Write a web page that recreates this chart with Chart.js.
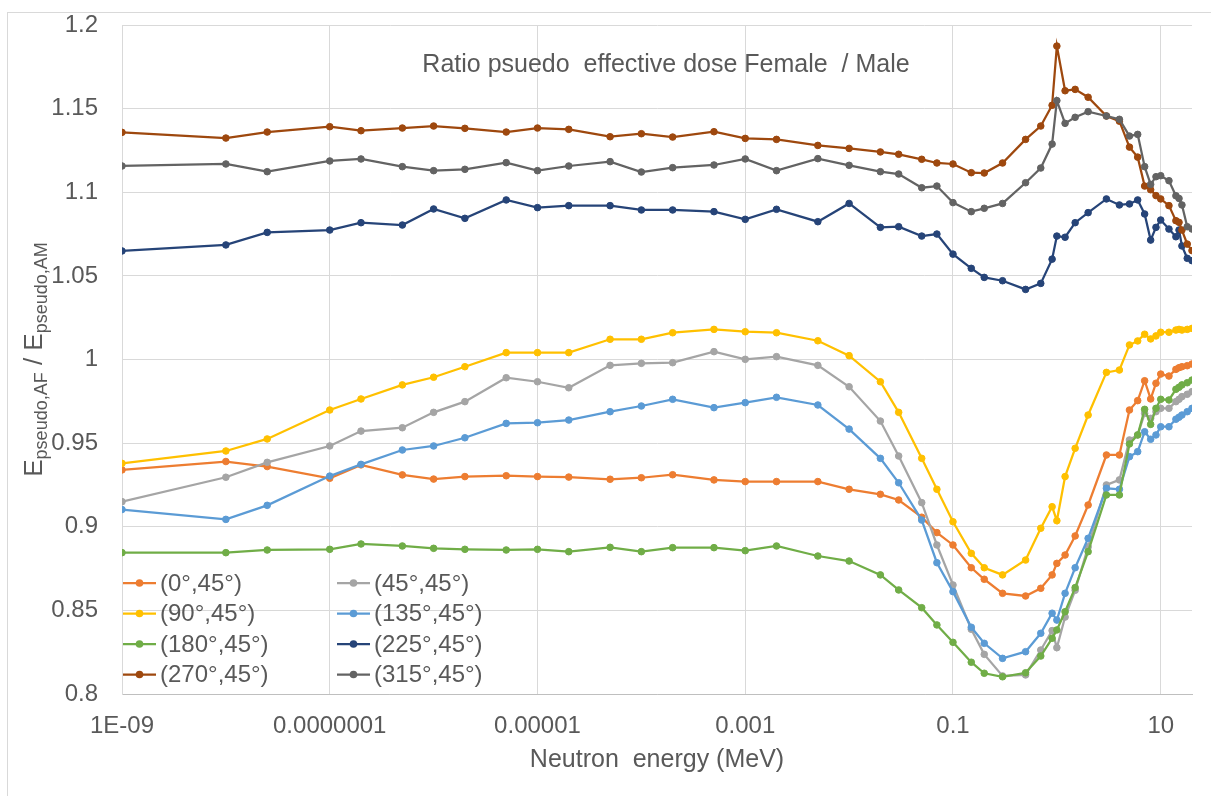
<!DOCTYPE html>
<html lang="en">
<head>
<meta charset="UTF-8">
<title>Ratio pseudo effective dose</title>
<script src="https://cdn.jsdelivr.net/npm/chart.js"></script>
<style>
  html, body { margin: 0; padding: 0; background: #fff; overflow: hidden; }
  .chart-box { position: relative; width: 1211px; height: 796px; }
</style>
</head>
<body>
<div class="chart-box">
  <canvas id="ratioChart"></canvas>
</div>

<script>
// neutron energies (MeV)
var energies = [1e-9, 1e-8, 2.5e-8, 1e-7, 2e-7, 5e-7, 1e-6, 2e-6, 5e-6, 1e-5, 2e-5, 5e-5,
  1e-4, 2e-4, 5e-4, 1e-3, 2e-3, 5e-3, 0.01, 0.02, 0.03, 0.05, 0.07, 0.1,
  0.15, 0.2, 0.3, 0.5, 0.7, 0.9, 1, 1.2, 1.5, 2, 3, 4,
  5, 6, 7, 8, 9, 10, 12, 14, 15, 16, 18, 20];

// ratio AF / AM for each irradiation direction
var deg0 = [0.934, 0.939, 0.936, 0.929, 0.937, 0.931,
  0.9285, 0.930, 0.9305, 0.930, 0.9297, 0.9284, 0.9293, 0.9311, 0.928, 0.927, 0.927, 0.927,
  0.9224, 0.9194, 0.916, 0.9057, 0.8965,
  0.8891, 0.8755, 0.8686, 0.8602, 0.8586, 0.8632, 0.8712, 0.8781, 0.8831, 0.8945, 0.913,
  0.9429, 0.9429, 0.9698, 0.9754, 0.9873, 0.9764, 0.9858, 0.9913, 0.9901, 0.9941, 0.9951, 0.9957, 0.9963, 0.9973];
var deg45 = [0.915, 0.9296, 0.9385, 0.9483, 0.9572, 0.9592,
  0.9684, 0.9748, 0.9891, 0.9867, 0.9831, 0.9965, 0.9977, 0.9981, 1.0047, 1.0001, 1.0017, 0.9965,
  0.9837, 0.9632, 0.9423, 0.9144,
  0.8891, 0.8652, 0.8387, 0.8237, 0.8108, 0.8114, 0.8263, 0.8379, 0.8277,
  0.846, 0.862, 0.888,
  0.925, 0.928, 0.9519, 0.9549, 0.9678, 0.9648, 0.9688, 0.9708, 0.9708, 0.9748, 0.9762, 0.9778, 0.9792, 0.9808];
var deg90 = [0.9379, 0.9453, 0.9525, 0.9698, 0.9764, 0.9848,
  0.9894, 0.9957, 1.0041, 1.0041, 1.0041, 1.0121, 1.0121, 1.016, 1.018, 1.0166, 1.016, 1.0112,
  1.0023, 0.9867, 0.9684, 0.9409, 0.9224, 0.903,
  0.8841, 0.8755, 0.8712, 0.8801, 0.8991, 0.912, 0.9036,
  0.93, 0.9469, 0.9668, 0.9923, 0.9937, 1.0087, 1.0111, 1.0151, 1.0123, 1.0141, 1.0163, 1.0163, 1.0176, 1.018, 1.0176, 1.018, 1.0186];
var deg135 = [0.9103, 0.9044, 0.9128, 0.9303, 0.9373, 0.9459,
  0.9483, 0.9532, 0.9618, 0.9622, 0.9638, 0.9688, 0.9722, 0.9762, 0.9712, 0.9742, 0.9774, 0.9728,
  0.9584, 0.9409, 0.9263, 0.904,
  0.8785, 0.8612, 0.8399, 0.8303, 0.8213, 0.8253, 0.8363, 0.8483, 0.8442, 0.8602, 0.8755, 0.8931,
  0.923, 0.9224, 0.9419, 0.9449, 0.9568, 0.9523, 0.9549, 0.9598, 0.9598, 0.9643, 0.9655, 0.9668, 0.9688, 0.9708];
var deg180 = [0.8845, 0.8845, 0.8861, 0.8865, 0.8897, 0.8885,
  0.8871, 0.8865, 0.8861, 0.8865, 0.8851, 0.8877, 0.8851, 0.8875, 0.8875, 0.8857, 0.8885, 0.8825,
  0.8795, 0.8712, 0.8622, 0.8516, 0.8413, 0.8309, 0.819, 0.8124, 0.8103, 0.8127, 0.8227, 0.8333, 0.8383, 0.8492, 0.8636, 0.8851,
  0.919, 0.919, 0.9495, 0.9549, 0.9702, 0.9612, 0.9708, 0.9762, 0.9758, 0.9822, 0.9834, 0.9848, 0.9861, 0.9877];
var deg225 = [1.0649, 1.0685, 1.076, 1.0774, 1.0818, 1.0804,
  1.09, 1.0844, 1.0954, 1.0908, 1.092, 1.092, 1.0894, 1.0894, 1.0884, 1.0838, 1.0898, 1.0824,
  1.0933, 1.079, 1.0794, 1.0738, 1.075, 1.063, 1.0545,
  1.0491, 1.0471, 1.0419, 1.0455, 1.060,
  1.0738, 1.0731, 1.0818, 1.0878, 1.096, 1.0924, 1.093, 1.0954, 1.087, 1.0714, 1.079, 1.0834, 1.078, 1.0734, 1.0774, 1.0679, 1.0605, 1.0591];
var deg270 = [1.1358, 1.1324, 1.136, 1.1392, 1.1368, 1.1384,
  1.1396, 1.1382, 1.136, 1.1384, 1.1376, 1.1332, 1.135, 1.133, 1.1362, 1.1322, 1.1316, 1.128,
  1.1262, 1.1241, 1.1227, 1.1197, 1.1175, 1.1169, 1.1117, 1.1115, 1.1175, 1.1316, 1.1396, 1.152, 1.1874, 1.1607, 1.1615, 1.1568,
  1.1456, 1.1425, 1.127, 1.121, 1.1037, 1.1015, 1.098, 1.096, 1.092, 1.083, 1.082, 1.0774, 1.069, 1.0651];
var deg315 = [1.1157, 1.1169, 1.1123, 1.1187, 1.1199, 1.1153,
  1.1129, 1.1137, 1.1177, 1.1129, 1.1157, 1.1183, 1.1121, 1.1147, 1.1163, 1.1199, 1.1129, 1.1201,
  1.1161, 1.1123, 1.1109, 1.1027, 1.1037, 1.0938, 1.0884, 1.0904, 1.0933, 1.1057, 1.1145, 1.1288, 1.1548,
  1.1412, 1.1448, 1.1482, 1.1456, 1.1436, 1.1336, 1.1346, 1.1153, 1.1047, 1.1093, 1.1099, 1.1069, 1.0979, 1.0963, 1.0924, 1.0794, 1.078];

var seriesLabels = ['(0°,45°)', '(45°,45°)', '(90°,45°)', '(135°,45°)', '(180°,45°)', '(225°,45°)', '(270°,45°)', '(315°,45°)'];
var seriesColors = ['#ED7D31', '#A5A5A5', '#FFC000', '#5B9BD5', '#70AD47', '#264478', '#9E480E', '#636363'];

var xTicks = [1e-9, 1e-7, 1e-5, 1e-3, 0.1, 10];
var xTickLabels = ['1E-09', '0.0000001', '0.00001', '0.001', '0.1', '10'];
var yTicks = [0.8, 0.85, 0.9, 0.95, 1, 1.05, 1.1, 1.15, 1.2];
var yTickLabels = ['0.8', '0.85', '0.9', '0.95', '1', '1.05', '1.1', '1.15', '1.2'];

var chartTitle = 'Ratio psuedo  effective dose Female  / Male';
var xTitle = 'Neutron  energy (MeV)';

var FONT = "'Liberation Sans', Arial, sans-serif";
var TEXT = '#595959';

var allSeries = [deg0, deg45, deg90, deg135, deg180, deg225, deg270, deg315];

var datasets = allSeries.map(function(vals, i) {
  return {
    label: seriesLabels[i],
    data: vals.map(function(v, j) { return { x: energies[j], y: v }; }),
    borderColor: seriesColors[i],
    backgroundColor: seriesColors[i],
    borderWidth: 2.25,
    pointRadius: 3.3,
    pointBorderWidth: 1,
    pointHoverRadius: 3.3,
    tension: 0,
    order: allSeries.length - i
  };
});

// titles, legend and frame drawn by hand (Excel-like layout)
var decorPlugin = {
  id: 'decor',
  beforeDraw: function(chart) {
    var c = chart.ctx;
    c.save();
    c.fillStyle = '#fff';
    c.fillRect(0, 0, chart.width, chart.height);
    c.strokeStyle = '#D9D9D9';
    c.lineWidth = 1;
    c.strokeRect(7.5, 12.5, chart.width + 20, chart.height + 20);
    c.restore();
  },
  afterDraw: function(chart) {
    var c = chart.ctx;
    var a = chart.chartArea;
    c.save();
    c.fillStyle = TEXT;

    // chart title inside the plot
    c.font = '25px ' + FONT;
    c.textAlign = 'center';
    c.textBaseline = 'middle';
    c.fillText(chartTitle, (a.left + a.right) / 2 + 9, a.top + 40);

    // x axis title
    c.fillText(xTitle, (a.left + a.right) / 2, 760);

    // y axis title with subscripts
    var parts = [
      { t: 'E', sub: false }, { t: 'pseudo,AF', sub: true },
      { t: ' / E', sub: false }, { t: 'pseudo,AM', sub: true }
    ];
    var big = '26px ' + FONT, small = '18px ' + FONT;
    var total = 0;
    parts.forEach(function(p) {
      c.font = p.sub ? small : big;
      p.w = c.measureText(p.t).width;
      total += p.w;
    });
    c.translate(42, (a.top + a.bottom) / 2);
    c.rotate(-Math.PI / 2);
    c.textAlign = 'left';
    c.textBaseline = 'alphabetic';
    var px = -total / 2;
    parts.forEach(function(p) {
      c.font = p.sub ? small : big;
      c.fillText(p.t, px, p.sub ? 5 : 0);
      px += p.w;
    });
    c.setTransform(1, 0, 0, 1, 0, 0);
    c.scale(chart.currentDevicePixelRatio, chart.currentDevicePixelRatio);

    // legend, two columns in the lower left of the plot
    c.font = '24px ' + FONT;
    c.textAlign = 'left';
    c.textBaseline = 'middle';
    chart.data.datasets.forEach(function(ds, i) {
      var col = i % 2, row = Math.floor(i / 2);
      var x0 = a.left + 1 + col * 214;
      var y0 = a.bottom - 111 + row * 30.5;
      c.strokeStyle = ds.borderColor;
      c.lineWidth = 2.25;
      c.beginPath();
      c.moveTo(x0, y0);
      c.lineTo(x0 + 33, y0);
      c.stroke();
      c.fillStyle = ds.backgroundColor;
      c.beginPath();
      c.arc(x0 + 16.5, y0, 3.8, 0, Math.PI * 2);
      c.fill();
      c.fillStyle = TEXT;
      c.fillText(ds.label, x0 + 37, y0 + 1);
    });
    c.restore();
  }
};

var ctx = document.getElementById('ratioChart').getContext('2d');
var ratioChart = new Chart(ctx, {
  type: 'line',
  data: { datasets: datasets },
  plugins: [decorPlugin],
  options: {
    responsive: true,
    maintainAspectRatio: false,
    animation: false,
    layout: { padding: { left: 0, right: 19, top: 25, bottom: 0 } },
    plugins: {
      legend: { display: false },
      title: { display: false },
      tooltip: { enabled: false }
    },
    scales: {
      x: {
        type: 'logarithmic',
        min: 1e-9,
        max: 20,
        afterBuildTicks: function(scale) {
          scale.ticks = xTicks.map(function(v) { return { value: v }; });
        },
        afterFit: function(scale) { scale.height = 102; },
        ticks: {
          autoSkip: false,
          maxRotation: 0,
          padding: 18,
          color: TEXT,
          font: { family: FONT, size: 24 },
          callback: function(value, index) { return xTickLabels[index]; }
        },
        grid: { color: '#D9D9D9', lineWidth: 1, drawTicks: false },
        border: { color: '#BFBFBF', width: 1 }
      },
      y: {
        min: 0.8,
        max: 1.2,
        afterBuildTicks: function(scale) {
          scale.ticks = yTicks.map(function(v) { return { value: v }; });
        },
        afterFit: function(scale) {
          scale.width = 122;
          scale.paddingTop = 0;
          scale.paddingBottom = 0;
        },
        ticks: {
          padding: 24,
          color: TEXT,
          font: { family: FONT, size: 24 },
          callback: function(value, index) { return yTickLabels[index]; }
        },
        grid: { color: '#D9D9D9', lineWidth: 1, drawTicks: false },
        border: { color: '#D9D9D9', width: 1 }
      }
    }
  }
});
</script>
</body>
</html>
